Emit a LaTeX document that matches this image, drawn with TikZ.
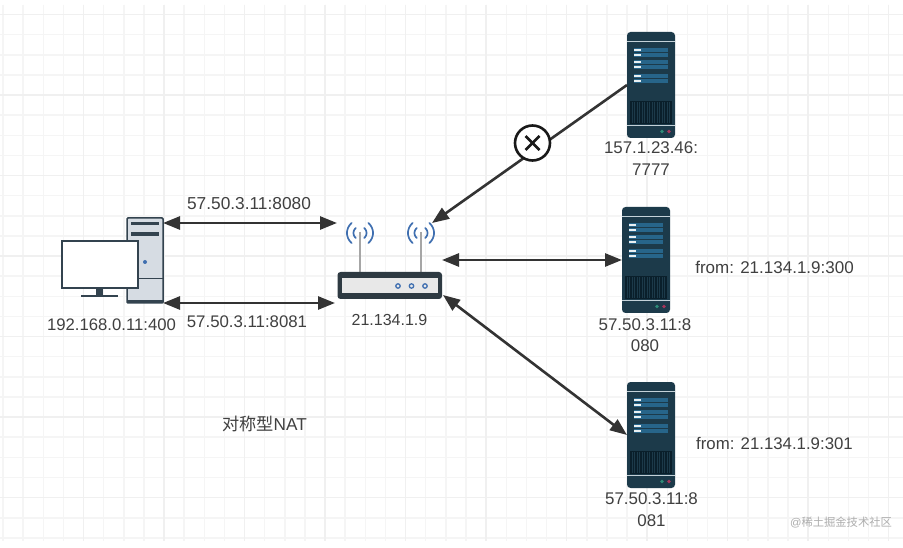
\documentclass[tikz,border=0pt]{standalone}
\usepackage{fontspec}
\setmainfont{Liberation Sans}
\newfontfamily\cjkfont{Noto Sans CJK SC}
\usetikzlibrary{arrows.meta}
\definecolor{gridminor}{HTML}{F5F5F5}
\definecolor{gridmajor}{HTML}{F0F0F0}
\definecolor{wire}{HTML}{333333}
\definecolor{srvbody}{HTML}{1C3A4A}
\definecolor{srvvent}{HTML}{0A1F2B}
\definecolor{srvbar}{HTML}{27658A}
\definecolor{srvline}{HTML}{C4D2D9}
\definecolor{ledgreen}{HTML}{2E8C78}
\definecolor{ledred}{HTML}{A8355A}
\definecolor{pcedge}{HTML}{33434F}
\definecolor{pcbody}{HTML}{D6DCE3}
\definecolor{wave}{HTML}{3F6FB0}
\definecolor{routerbody}{HTML}{2E3A42}
\definecolor{labeltext}{HTML}{404040}
\tikzset{
  link/.style={draw=wire,line width=2.6pt,{Triangle[length=17pt,width=13pt]}-{Triangle[length=17pt,width=13pt]}},
  oneway/.style={draw=wire,line width=2.6pt,-{Triangle[length=17pt,width=13pt]}},
  label/.style={text=labeltext,inner sep=0pt,align=center},
  hostbox/.style={inner sep=0pt,outer sep=0pt,anchor=north west},
  antenna/.style={draw=black!35,line width=1.6pt},
  signal/.style={draw=wave,line width=1.7pt,line cap=round},
}
\newcommand{\sized}[1]{\fontsize{#1}{21.5}\selectfont}
% one rack server: origin at its top left corner, 48 wide and 106 high
\newcommand{\rackserver}[3]{%
  \begin{scope}[shift={(#1,#2)}]
    \fill[srvbody,rounded corners=3.5pt] (0,0) rectangle (48,106);
    \draw[srvline,line width=1.1pt] (0,9.5) -- (48,9.5);
    \foreach \y/\h in {16/4.4,21/4.4,28/4.4,33/4.4,42/4.4,47/4.4}{
      \fill[srvbar] (7,\y) rectangle (41,\y+\h);
      \fill[white!90!srvbar] (7,\y+1.3) rectangle (14,\y+\h-1.3);
    }
    \fill[srvvent] (3,69) rectangle (45,92);
    \foreach \x in {5,7.5,...,43}{
      \draw[srvbody,line width=0.7pt] (\x,70) -- (\x,91);
    }
    \draw[srvline,line width=0.8pt] (0,93.5) -- (48,93.5);
    \fill[ledgreen] (35,99.5) circle (1.9pt);
    \fill[ledred] (42,99.5) circle (1.9pt);
    \node[hostbox,minimum width=48pt,minimum height=106pt] (#3) at (0,0) {};
  \end{scope}%
}
\begin{document}
\begin{tikzpicture}[x=1pt,y=-1pt]
  \useasboundingbox (0,0) rectangle (903,548);
  \fill[white] (0,0) rectangle (903,548);

  % background grid
  \foreach \i in {0,...,44}{
    \pgfmathsetmacro{\gx}{3+20.13*\i}
    \draw[gridminor,line width=1.5pt] (\gx,5) -- (\gx,541);
  }
  \foreach \i in {0,...,26}{
    \pgfmathsetmacro{\gy}{14.5+20.13*\i}
    \draw[gridminor,line width=1.5pt] (0,\gy) -- (903,\gy);
  }
  \foreach \i in {0,...,10}{
    \pgfmathsetmacro{\gx}{83.5+80.52*\i}
    \draw[gridmajor,line width=1.5pt] (\gx,5) -- (\gx,541);
  }
  \foreach \i in {0,...,6}{
    \pgfmathsetmacro{\gy}{14.5+80.52*\i}
    \draw[gridmajor,line width=1.5pt] (0,\gy) -- (903,\gy);
  }

  % desktop computer
  \draw[pcedge,fill=pcbody,line width=1.5pt,rounded corners=1pt] (127,218) rectangle (163,303);
  \draw[pcedge,line width=3pt] (127,302) -- (163,302);
  \fill[pcedge] (131,222.5) rectangle (159,225.5);
  \fill[pcedge] (131,232) rectangle (159,236.5);
  \draw[pcedge,line width=0.8pt] (127,278) -- (163,278);
  \fill[wave] (145,262) circle (2pt);
  \fill[pcedge] (96,288) rectangle (103,295);
  \fill[pcedge] (81,295) rectangle (118,297.5);
  \draw[pcedge,fill=white,line width=1.4pt] (62,241) rectangle (138,288);
  \node[hostbox,minimum width=36pt,minimum height=80pt] (pc) at (127,223) {};

  % router
  \draw[antenna] (360,232) -- (360,272);
  \draw[antenna] (421,232) -- (421,272);
  \foreach \cx in {360,421}{
    \draw[signal] plot[domain=130:230,samples=15] ({\cx+6.5*cos(\x)},{233+6.5*sin(\x)});
    \draw[signal] plot[domain=-50:50,samples=15] ({\cx+6.5*cos(\x)},{233+6.5*sin(\x)});
    \draw[signal] plot[domain=130:230,samples=15] ({\cx+13*cos(\x)},{233+13*sin(\x)});
    \draw[signal] plot[domain=-50:50,samples=15] ({\cx+13*cos(\x)},{233+13*sin(\x)});
  }
  \fill[routerbody,rounded corners=3pt] (337.5,272) rectangle (442,299);
  \fill[black!9] (342,278.5) rectangle (438,293);
  \foreach \dx in {398,411.5,425}{
    \draw[wave,line width=1.3pt] (\dx,286) circle (2.2pt);
  }
  \node[hostbox,minimum width=105pt,minimum height=27pt] (router) at (337,272) {};
  \coordinate (routerLeftUp) at (337,223);
  \coordinate (routerLeftLow) at (335,303);
  \coordinate (routerAntenna) at (432,223);
  \coordinate (routerRight) at (442,260);
  \coordinate (routerCorner) at (443,295);

  % servers
  \rackserver{627}{32}{serverA}
  \rackserver{622}{207}{serverB}
  \rackserver{627}{382}{serverC}

  % connectors
  \draw[link] (pc.north east) -- (routerLeftUp);
  \draw[link] (pc.south east) -- (routerLeftLow);
  \draw[link] (routerRight) -- (serverB.west);
  \draw[link] (routerCorner) -- (serverC.west);
  \draw[oneway] (serverA.west) -- (routerAntenna);

  % blocked marker on the refused path
  \node[circle,draw=black!90,fill=white,line width=2.6pt,minimum size=35pt,inner sep=0pt] (blocked) at (532.5,143) {};
  \draw[black!90,line width=2.6pt] (blocked.center) ++(-7,-7) -- ++(14,14);
  \draw[black!90,line width=2.6pt] (blocked.center) ++(-7,7) -- ++(14,-14);

  % labels
  \node[label,font=\sized{17.3}] (lblUp) at (249,204) {57.50.3.11:8080};
  \node[label,font=\sized{16.8}] (lblLow) at (247,321.5) {57.50.3.11:8081};
  \node[label,font=\sized{16.7}] (lblPc) at (111.5,325) {192.168.0.11:400};
  \node[label,font=\sized{16}] (lblRouter) at (389.5,320) {21.134.1.9};
  \node[label,font=\sized{16.9}] (lblA) at (651,158.5) {157.1.23.46:\\7777};
  \node[label,font=\sized{16.9}] (lblB) at (645,335) {57.50.3.11:8\\080};
  \node[label,font=\sized{16.9}] (lblC) at (651.5,509.5) {57.50.3.11:8\\081};
  \node[label,font=\sized{17}] (fromB) at (774.5,267) {from: 21.134.1.9:300};
  \node[label,font=\sized{16.8}] (fromC) at (774.5,444) {from: 21.134.1.9:301};
  \node[label,font=\sized{17.2}] (kind) at (264.5,424) {{\cjkfont 对称型}NAT};
  \node[inner sep=0pt,text=black!32,font=\fontsize{11.3}{13}\selectfont] (mark) at (841,522) {@{\cjkfont 稀土掘金技术社区}};
\end{tikzpicture}
\end{document}
